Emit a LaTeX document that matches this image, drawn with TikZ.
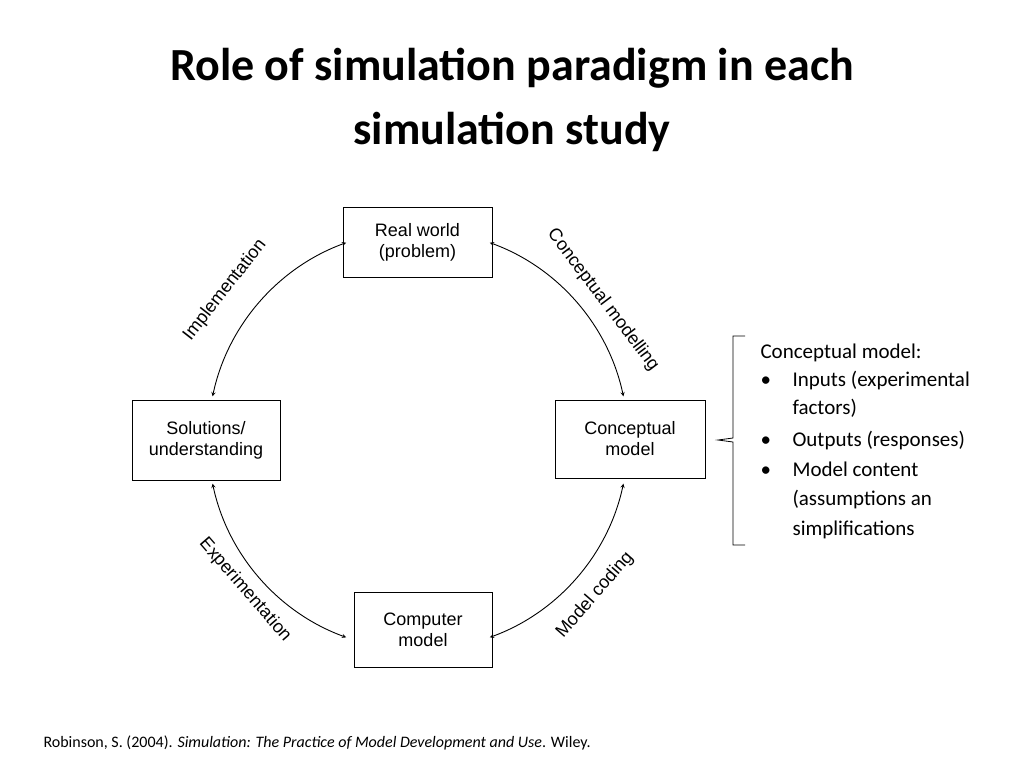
\documentclass[tikz,border=0pt]{standalone}
\usetikzlibrary{calc}
\usepackage{fontspec}
\setmainfont{Carlito}
\newfontfamily\arial{Liberation Sans}
\begin{document}
\begin{tikzpicture}[x=1pt,y=1pt,
  box/.style={draw,line width=1pt,font=\arial\fontsize{18}{21}\selectfont,align=center,inner sep=0pt},
  lab/.style={font=\arial\fontsize{18}{21}\selectfont},
  arc/.style={<->,>=stealth,line width=0.9pt},
  side/.style={anchor=base west,font=\fontsize{21}{25}\selectfont}]
\useasboundingbox (0,0) rectangle (1024,-768);
\node[font=\bfseries\fontsize{46}{64}\selectfont,align=center] (title) at (512,-100) {Role of simulation paradigm in each\\simulation study};
\node[box,minimum width=149,minimum height=70] (rw) at (417.5,-242) {Real world\\(problem)};
\node[box,minimum width=150,minimum height=78] (cm) at (630,-439) {Conceptual\\model};
\node[box,minimum width=148,minimum height=80] (su) at (206,-440) {Solutions/\\understanding};
\node[box,minimum width=138,minimum height=75] (co) at (423,-629.5) {Computer\\model};
\coordinate (c) at (418,-440);
\draw[arc] ($(c)+(70:210)$) arc (70:12:210);
\draw[arc] ($(c)+(-12:210)$) arc (-12:-70:210);
\draw[arc] ($(c)+(-110:210)$) arc (-110:-168:210);
\draw[arc] ($(c)+(168:210)$) arc (168:110:210);
\node[lab,rotate=52] (l1) at (225,-290) {Implementation};
\node[lab,rotate=-53] (l2) at (603,-300) {Conceptual modelling};
\node[lab,rotate=49] (l3) at (595,-595) {Model coding};
\node[lab,rotate=-49] (l4) at (245,-590) {Experimentation};
\draw[line width=0.8pt] (745,-336) -- (733,-336) -- (733,-438) -- (718,-440) -- (733,-442) -- (733,-545) -- (745,-545);
\node[side] (t1) at (757,-358) {Conceptual model:};
\node[side] (b1) at (757,-386) {•};
\node[side] (t2) at (789,-386) {Inputs (experimental};
\node[side] (t3) at (789,-414) {factors)};
\node[side] (b2) at (757,-446) {•};
\node[side] (t4) at (789,-446) {Outputs (responses)};
\node[side] (b3) at (757,-476) {•};
\node[side] (t5) at (789,-476) {Model content};
\node[side] (t6) at (789,-505) {(assumptions an};
\node[side] (t7) at (789,-535) {simplifications};
\node[anchor=base west,font=\fontsize{16}{19}\selectfont] (ref) at (40,-747) {Robinson, S. (2004). \textit{Simulation: The Practice of Model Development and Use}. Wiley.};
\end{tikzpicture}
\end{document}
